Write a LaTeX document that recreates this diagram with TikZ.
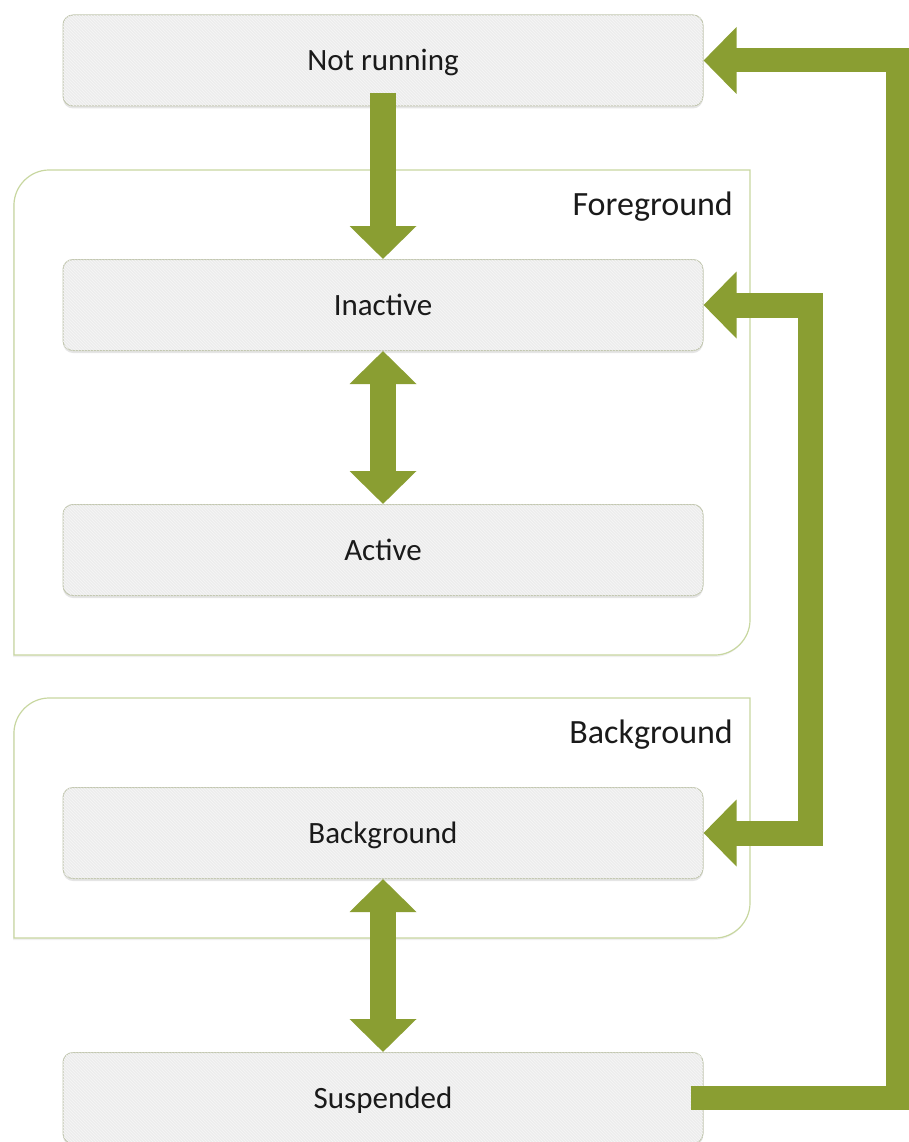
\documentclass[tikz,border=0pt]{standalone}
\usepackage{fontspec}
\setmainfont{Carlito}
\usetikzlibrary{arrows.meta,shadows,patterns}
\definecolor{leaf}{HTML}{8A9E32}
\definecolor{boxfill}{HTML}{EDEDED}
\definecolor{hatch}{HTML}{F6F6F6}
\definecolor{boxline}{HTML}{C2C7B0}
\definecolor{zoneline}{HTML}{C8D7A0}
\definecolor{ink}{HTML}{1A1A1A}

\begin{document}
\begin{tikzpicture}[x=1pt,y=-1pt,
  Big/.tip={Triangle[width=65pt,length=33pt]},
  state/.style={draw=boxline,line width=1pt,rounded corners=10pt,fill=boxfill,
    postaction={pattern=north west lines,pattern color=hatch},
    drop shadow={shadow xshift=0pt,shadow yshift=-2.5pt,opacity=0.2},
    minimum width=640pt,minimum height=91pt,inner sep=0pt,
    text height=20pt,text depth=0pt,text=ink,font=\fontsize{31}{36}\selectfont},
  zone/.style={draw=zoneline,line width=1.2pt,fill=white,
    drop shadow={shadow xshift=-1pt,shadow yshift=-2pt,opacity=0.12}},
  tag/.style={anchor=base east,inner sep=0pt,text=ink,font=\fontsize{34}{40}\selectfont},
  flow/.style={draw=leaf,line width=26pt,line join=miter,-Big},
  twoway/.style={draw=leaf,line width=26pt,line join=miter,Big-Big}]
\useasboundingbox (0,0) rectangle (909,1142);

% groups
\draw[zone] (14,655) -- (14,205) .. controls (14,186) and (30,170) .. (49,170)
  -- (750,170) -- (750,620) .. controls (750,639) and (734,655) .. (715,655) -- cycle;
\draw[zone] (14,938) -- (14,733) .. controls (14,714) and (30,698) .. (49,698)
  -- (750,698) -- (750,903) .. controls (750,922) and (734,938) .. (715,938) -- cycle;
\node[tag] (fgl) at (733,215) {Foreground};
\node[tag] (bgl) at (733,743) {Background};

% states
\node[state] (nr) at (383,60.5) {Not running};
\node[state] (ina) at (383,305) {Inactive};
\node[state] (act) at (383,550) {Active};
\node[state] (bg) at (383,833) {Background};
\node[state] (sus) at (383,1098) {Suspended};

% transitions
\draw[flow] ([yshift=13pt]nr.south) -- (ina.north);
\draw[twoway] (ina.south) -- (act.north);
\draw[twoway] (bg.south) -- (sus.north);
\draw[twoway,line width=25pt] (ina.east) -- ++(107,0) |- (bg.east);
\draw[flow,line width=24pt] ([xshift=-13pt]sus.east) -- ++(207,0) |- (nr.east);
\end{tikzpicture}
\end{document}
